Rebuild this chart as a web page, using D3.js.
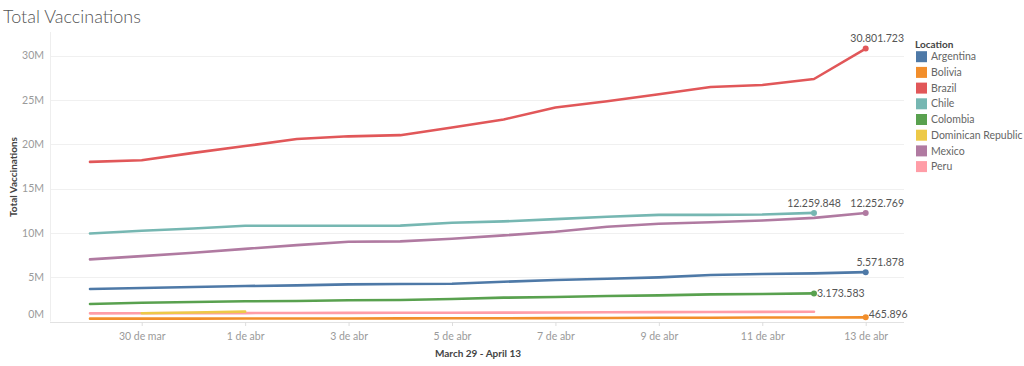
<!DOCTYPE html>
<html>
<head>
<meta charset="utf-8">
<script src="https://cdn.jsdelivr.net/npm/d3@7"></script>
<style>
  html, body { margin: 0; padding: 0; background: #fff; }
  svg { display: block; font-family: Lato, "Open Sans", sans-serif; }
</style>
</head>
<body>
<svg id="chart" width="1024" height="366"></svg>
<script>
// ---- data ----
const countries = ["Argentina", "Bolivia", "Brazil", "Chile", "Colombia", "Dominican Republic", "Mexico", "Peru"];
const colors = ["#4e79a7", "#f28e2b", "#e15759", "#76b7b2", "#59a14f", "#edc948", "#b07aa1", "#ff9da7"];

// values in vaccinations, one per day starting at each series' start date
const argentinaStart = "2021-03-29";
const argentinaValues = [3660000, 3780000, 3890000, 4000000, 4080000, 4190000, 4230000, 4260000, 4490000, 4680000, 4830000, 4980000, 5240000, 5360000, 5430000, 5571878];
const boliviaStart = "2021-03-29";
const boliviaValues = [320000, 325000, 330000, 335000, 340000, 345000, 350000, 360000, 370000, 385000, 400000, 415000, 430000, 445000, 455000, 465896];
const brazilStart = "2021-03-29";
const brazilValues = [18020000, 18200000, 19030000, 19800000, 20600000, 20900000, 21030000, 21900000, 22800000, 24150000, 24860000, 25650000, 26470000, 26700000, 27370000, 30801723];
const chileStart = "2021-03-29";
const chileValues = [9940000, 10240000, 10500000, 10800000, 10800000, 10800000, 10820000, 11140000, 11300000, 11550000, 11820000, 12040000, 12040000, 12080000, 12259848];
const colombiaStart = "2021-03-29";
const colombiaValues = [1970000, 2120000, 2200000, 2280000, 2310000, 2390000, 2420000, 2540000, 2690000, 2760000, 2870000, 2950000, 3060000, 3100000, 3173583];
const domRepStart = "2021-03-30";
const domRepValues = [930000, 1010000, 1110000];
const mexicoStart = "2021-03-29";
const mexicoValues = [7010000, 7380000, 7760000, 8200000, 8620000, 9000000, 9040000, 9340000, 9720000, 10130000, 10700000, 11030000, 11200000, 11400000, 11700000, 12252769];
const peruStart = "2021-03-29";
const peruValues = [920000, 930000, 940000, 950000, 960000, 970000, 980000, 990000, 1000000, 1020000, 1040000, 1060000, 1070000, 1090000, 1100000];

const yTicks = [0, 5e6, 10e6, 15e6, 20e6, 25e6, 30e6];
const yTickLabels = ["0M", "5M", "10M", "15M", "20M", "25M", "30M"];
const monthsShort = ["ene", "feb", "mar", "abr", "may", "jun", "jul", "ago", "sep", "oct", "nov", "dic"];
const titleText = "Total Vaccinations";
const yTitle = "Total Vaccinations";
const xTitle = "March 29 - April 13";
const legendTitle = "Location";
const labeled = ["Brazil", "Chile", "Mexico", "Argentina", "Colombia", "Bolivia"];

// ---- build ----
const parse = d3.timeParse("%Y-%m-%d");
function series(name, start, values) {
  const s = parse(start);
  return { name, points: values.map((v, i) => ({ date: d3.timeDay.offset(s, i), value: v })) };
}
const allSeries = [
  series("Argentina", argentinaStart, argentinaValues),
  series("Bolivia", boliviaStart, boliviaValues),
  series("Brazil", brazilStart, brazilValues),
  series("Chile", chileStart, chileValues),
  series("Colombia", colombiaStart, colombiaValues),
  series("Dominican Republic", domRepStart, domRepValues),
  series("Mexico", mexicoStart, mexicoValues),
  series("Peru", peruStart, peruValues)
];
const color = d3.scaleOrdinal().domain(countries).range(colors);

const fmt = d3.formatLocale({ decimal: ",", thousands: ".", grouping: [3], currency: ["", ""] }).format(",d");

const svg = d3.select("#chart");
const plotLeft = 50, plotRight = 904, plotTop = 32, plotBottom = 321.5;
const lastDate = parse("2021-04-13");

const x = d3.scaleTime()
  .domain([parse("2021-03-29"), lastDate])
  .range([90, 865.7]);
const y = d3.scaleLinear().domain([0, 30e6]).range([plotBottom, 55.7]);

// title
svg.append("text").attr("x", 3).attr("y", 23).attr("font-size", 18).attr("fill", "#555")
  .attr("font-weight", 300).text(titleText);

// gridlines
svg.append("g").selectAll("line").data(yTicks.filter(d => d > 0)).join("line")
  .attr("x1", plotLeft).attr("x2", plotRight)
  .attr("y1", d => Math.round(y(d)) + 0.5).attr("y2", d => Math.round(y(d)) + 0.5)
  .attr("stroke", "#f0f0f0").attr("stroke-width", 1);

// y axis line
svg.append("line").attr("x1", plotLeft + 0.5).attr("x2", plotLeft + 0.5)
  .attr("y1", plotTop).attr("y2", plotBottom).attr("stroke", "#eeeeee");
// zero line
svg.append("line").attr("x1", plotLeft).attr("x2", plotRight)
  .attr("y1", Math.round(plotBottom) + 0.5).attr("y2", Math.round(plotBottom) + 0.5)
  .attr("stroke", "#e2e2e2");

// y tick labels
svg.append("g").selectAll("text").data(yTicks).join("text")
  .attr("x", 44).attr("y", (d, i) => (d === 0 ? y(d) - 7 : y(d)))
  .attr("dy", "0.35em").attr("text-anchor", "end")
  .attr("font-size", 10.5).attr("fill", "#9a9a9a")
  .text((d, i) => yTickLabels[i]);

// x axis
const xAxis = d3.axisBottom(x)
  .tickValues(d3.timeDay.range(parse("2021-03-30"), parse("2021-04-14"), 2))
  .tickSize(4).tickPadding(7)
  .tickFormat(d => d.getDate() + " de " + monthsShort[d.getMonth()]);
const gx = svg.append("g").attr("transform", `translate(0,${Math.round(plotBottom)})`).call(xAxis);
gx.select(".domain").remove();
gx.selectAll(".tick line").attr("stroke", "#dddddd");
gx.selectAll(".tick text").attr("fill", "#9a9a9a").attr("font-size", 10.5).attr("font-family", "Lato, sans-serif");

// axis titles
svg.append("text").attr("transform", "translate(17,177) rotate(-90)").attr("text-anchor", "middle")
  .attr("font-size", 10).attr("font-weight", 700).attr("fill", "#444").text(yTitle);
svg.append("text").attr("x", 478).attr("y", 357).attr("text-anchor", "middle")
  .attr("font-size", 10).attr("font-weight", 700).attr("fill", "#444").text(xTitle);

// lines
const line = d3.line().x(d => x(d.date)).y(d => y(d.value));
const drawOrder = ["Peru", "Bolivia", "Dominican Republic", "Colombia", "Argentina", "Mexico", "Chile", "Brazil"];
svg.append("g").selectAll("path").data(drawOrder.map(n => allSeries.find(s => s.name === n))).join("path")
  .attr("d", d => line(d.points)).attr("fill", "none")
  .attr("stroke", d => color(d.name)).attr("stroke-width", 2.6)
  .attr("stroke-linejoin", "round").attr("stroke-linecap", "round");

// end markers and labels
const ends = allSeries.filter(s => labeled.includes(s.name)).map(s => ({ name: s.name, last: s.points[s.points.length - 1] }));
const gEnd = svg.append("g");
gEnd.selectAll("circle").data(ends).join("circle")
  .attr("cx", d => x(d.last.date)).attr("cy", d => y(d.last.value)).attr("r", 3)
  .attr("fill", d => color(d.name));
const sideLabels = ["Colombia", "Bolivia"];
gEnd.selectAll("text").data(ends).join("text")
  .attr("font-size", 10.5).attr("fill", "#555")
  .text(d => fmt(d.last.value))
  .each(function (d) {
    const t = d3.select(this);
    const px = x(d.last.date), py = y(d.last.value);
    if (sideLabels.includes(d.name)) {
      t.attr("x", px + 3).attr("y", d.name === "Bolivia" ? py - 3 : py).attr("dy", "0.35em");
    } else if (+d.last.date === +lastDate) {
      t.attr("x", plotRight).attr("text-anchor", "end").attr("y", py - 10).attr("dy", "0.35em");
    } else {
      t.attr("x", px).attr("text-anchor", "middle").attr("y", py - 10).attr("dy", "0.35em");
    }
  });

// legend
const lg = svg.append("g").attr("transform", "translate(915,0)");
lg.append("text").attr("x", 0).attr("y", 44).attr("dy", "0.35em").attr("font-size", 10)
  .attr("font-weight", 700).attr("fill", "#444").text(legendTitle);
const items = lg.selectAll("g.item").data(countries).join("g").attr("class", "item")
  .attr("transform", (d, i) => `translate(0,${56.7 + i * 15.7})`);
items.append("rect").attr("x", 1).attr("y", -5.5).attr("width", 11).attr("height", 11)
  .attr("fill", d => color(d));
items.append("text").attr("x", 16).attr("y", 0).attr("dy", "0.35em").attr("font-size", 10.5)
  .attr("fill", "#666").text(d => d);
</script>
</body>
</html>
